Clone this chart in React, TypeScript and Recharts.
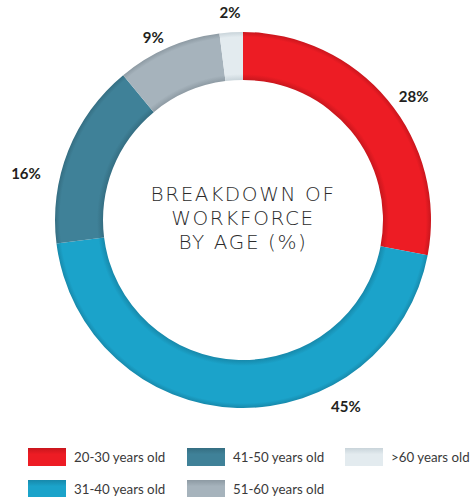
import { PieChart, Pie, Cell, Legend } from "recharts"

const ageGroups = ["20-30 years old", "31-40 years old", "41-50 years old", "51-60 years old", ">60 years old"]
const shares = [28, 45, 16, 9, 2]
const colors = ["#ED1C24", "#1BA3CA", "#3F8198", "#A6B3BC", "#E3EBEF"]
const shades = ["#C9161D", "#1789AB", "#356E82", "#8D9AA3", "#C9D4DA"]

const data = ageGroups.map((name, i) => ({ name, value: shares[i] }))

const CX = 243
const CY = 220
const OUTER = 188
const INNER = 140

// labels in the original don't sit exactly on slice midpoints: [angle shift, distance past ring]
const labelTweak: Record<string, [number, number]> = {
  "20-30 years old": [-3.6, 23],
  "31-40 years old": [30.7, 25],
  "41-50 years old": [9.4, 34],
  "51-60 years old": [2.7, 16],
  ">60 years old": [0, 20],
}

const RAD = Math.PI / 180

function renderLabel(props: any) {
  const { cx, cy, midAngle, outerRadius, value, name } = props
  const [shift, push] = labelTweak[name] || [0, 20]
  const angle = midAngle + shift
  const r = outerRadius + push
  const x = cx + r * Math.cos(-angle * RAD)
  const y = cy + r * Math.sin(-angle * RAD)
  return (
    <text
      x={x}
      y={y}
      textAnchor="middle"
      dominantBaseline="central"
      fill="#231F20"
      fontFamily="Lato"
      fontWeight={700}
      fontSize={15}
    >
      {`${value}%`}
    </text>
  )
}

function LegendContent({ payload }: any) {
  return (
    <div
      style={{
        display: "grid",
        gridTemplateRows: "repeat(2, 32px)",
        gridTemplateColumns: "159px 158px 126px",
        gridAutoFlow: "column",
        paddingLeft: 28,
      }}
    >
      {(payload || []).map((entry: any, i: number) => (
        <div key={entry.value} style={{ display: "flex", alignItems: "center", height: 18, whiteSpace: "nowrap" }}>
          <svg width={38} height={18} style={{ marginRight: 8, flex: "none" }}>
            <defs>
              <linearGradient id={`sw${i}`} x1="0" y1="0" x2="0" y2="1">
                <stop offset="0" stopColor={shades[i]} />
                <stop offset="0.35" stopColor={colors[i]} />
                <stop offset="1" stopColor={colors[i]} />
              </linearGradient>
            </defs>
            <rect width={38} height={18} fill={`url(#sw${i})`} />
          </svg>
          <span style={{ fontFamily: "Lato", fontSize: 13.3, color: "#3A3A3A" }}>{entry.value}</span>
        </div>
      ))}
    </div>
  )
}

export default function App() {
  return (
    <div style={{ position: "absolute", left: 0, top: 0, width: 471, height: 497, background: "#fff" }}>
      <PieChart width={471} height={497} margin={{ top: 0, right: 0, bottom: 0, left: 0 }}>
        <defs>
          {colors.map((c, i) => (
            <radialGradient
              key={c}
              id={`ring${i}`}
              gradientUnits="userSpaceOnUse"
              cx={CX}
              cy={CY}
              r={OUTER}
            >
              <stop offset={INNER / OUTER} stopColor={shades[i]} />
              <stop offset={(INNER + 6) / OUTER} stopColor={c} />
              <stop offset={(OUTER - 5) / OUTER} stopColor={c} />
              <stop offset="1" stopColor={shades[i]} />
            </radialGradient>
          ))}
        </defs>
        <Pie
          data={data}
          dataKey="value"
          nameKey="name"
          cx={CX}
          cy={CY}
          innerRadius={INNER}
          outerRadius={OUTER}
          startAngle={90}
          endAngle={-270}
          stroke="none"
          label={renderLabel}
          labelLine={false}
          isAnimationActive={false}
        >
          {data.map((d, i) => (
            <Cell key={d.name} fill={`url(#ring${i})`} />
          ))}
        </Pie>
        <text
          x={CX}
          textAnchor="middle"
          fill="#2B2B2B"
          fontFamily="DejaVu Sans"
          fontWeight={200}
          fontSize={20}
          letterSpacing={1.6}
        >
          <tspan x={CX} y={201}>BREAKDOWN OF</tspan>
          <tspan x={CX} y={225}>WORKFORCE</tspan>
          <tspan x={CX} y={249}>BY AGE (%)</tspan>
        </text>
        <Legend
          verticalAlign="bottom"
          height={60}
          content={<LegendContent />}
          wrapperStyle={{ top: 448, bottom: "auto", left: 0, width: 471 }}
        />
      </PieChart>
    </div>
  )
}
